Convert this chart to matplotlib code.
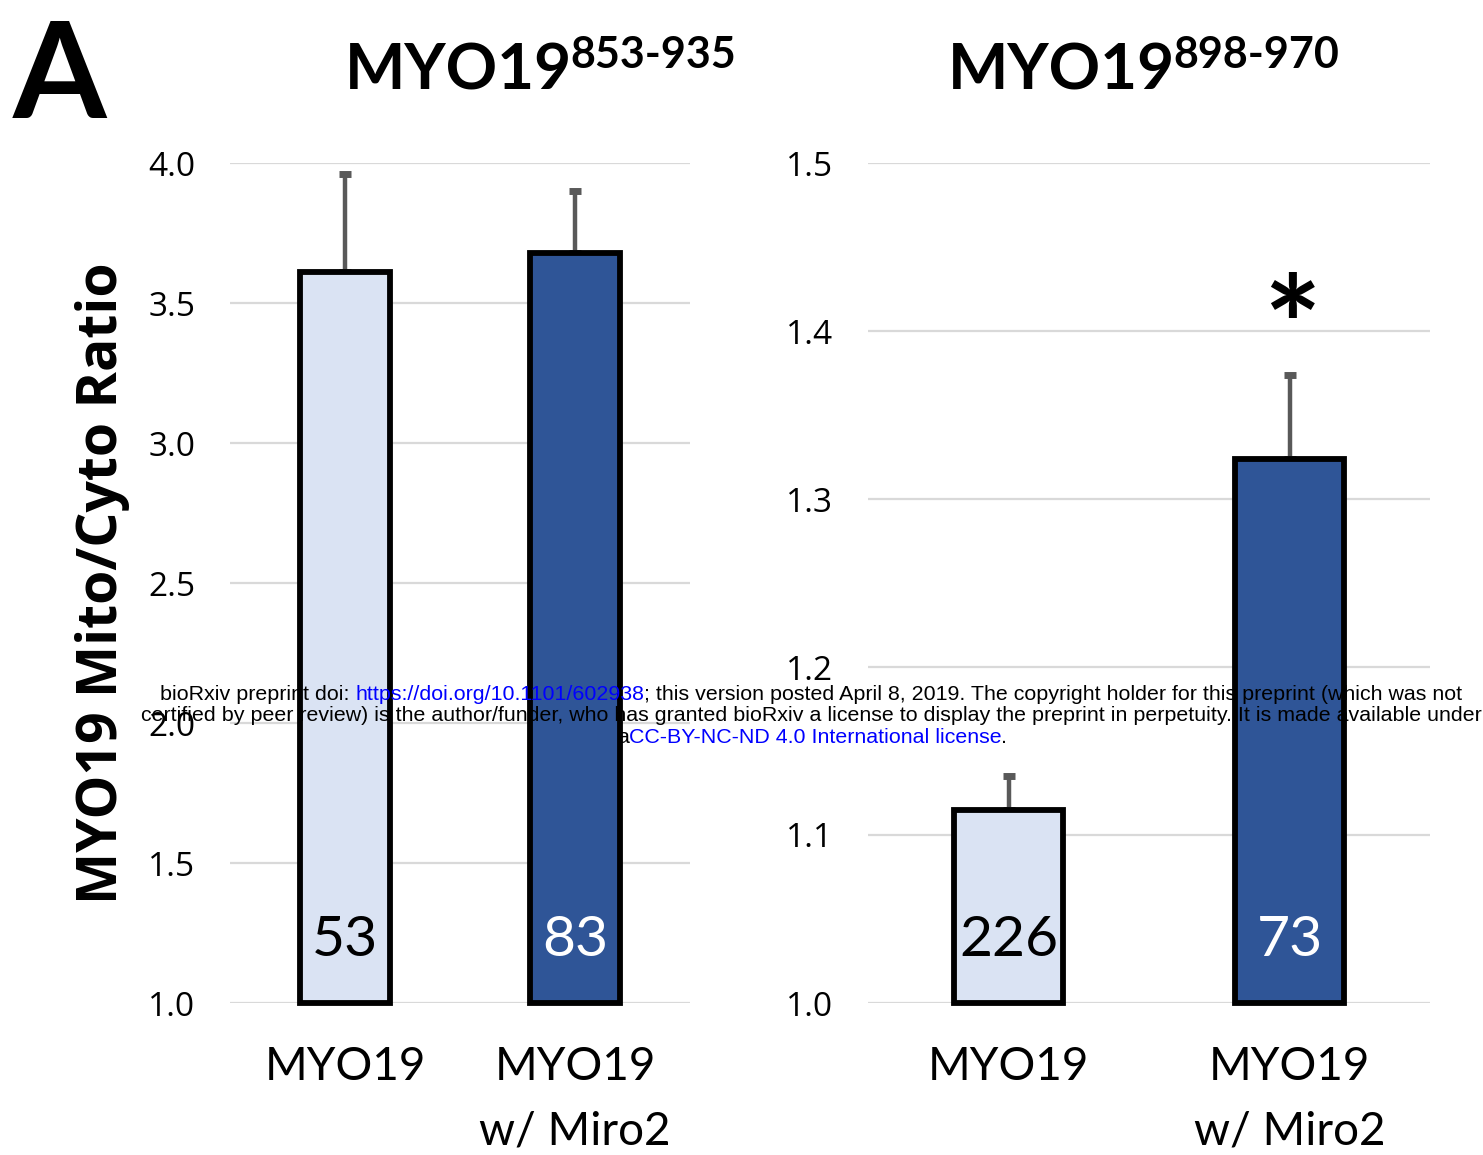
import numpy as np
import matplotlib.pyplot as plt

# data
groups = ['MYO19', 'MYO19\nw/ Miro2']
left_vals = [3.61, 3.68]
left_err = [0.35, 0.22]
left_n = ['53', '83']
left_ticks = [1.0, 1.5, 2.0, 2.5, 3.0, 3.5, 4.0]

right_vals = [1.115, 1.324]
right_err = [0.02, 0.05]
right_n = ['226', '73']
right_ticks = [1.0, 1.1, 1.2, 1.3, 1.4, 1.5]

bar_colors = ['#DAE3F3', '#2F5597']
n_colors = ['black', 'white']

W, H = 1483, 1155
fig = plt.figure(figsize=(W / 100, H / 100), dpi=100)


def panel(rect, vals, errs, ns, ticks):
    ax = fig.add_axes(rect)
    x = np.arange(len(vals))
    ax.bar(x, np.array(vals) - ticks[0], bottom=ticks[0], width=0.39,
           color=bar_colors, edgecolor='black', linewidth=4.2, zorder=3, clip_on=False)
    ax.errorbar(x, vals, yerr=[np.zeros(len(errs)), errs], fmt='none',
                ecolor='#595959', elinewidth=3.2, capsize=4, capthick=5, zorder=2)
    for i, n in enumerate(ns):
        ax.text(i, 0.056, n, transform=ax.get_xaxis_transform(), ha='center',
                va='baseline', fontsize=41, family='Lato', color=n_colors[i], zorder=4)
    ax.set_xlim(-0.5, 1.5)
    ax.set_ylim(ticks[0], ticks[-1])
    ax.set_yticks(ticks)
    ax.set_yticklabels(['%.1f' % t for t in ticks], fontsize=24, family='Open Sans')
    ax.set_xticks(x)
    ax.set_xticklabels(groups, fontsize=33, family='Lato', linespacing=1.65, va='top')
    ax.tick_params(length=0)
    ax.tick_params(axis='y', pad=25)
    ax.tick_params(axis='x', pad=31)
    ax.grid(axis='y', color='#D9D9D9', linewidth=1.6, zorder=0)
    for s in ax.spines.values():
        s.set_visible(False)
    return ax


bot = (H - 1003) / H
hgt = 840 / H
ax1 = panel([230 / W, bot, 460 / W, hgt], left_vals, left_err, left_n, left_ticks)
ax2 = panel([868 / W, bot, 562 / W, hgt], right_vals, right_err, right_n, right_ticks)

ax2.text(1.01, 1.397, '*', ha='center', va='center', fontsize=98, fontweight='bold', family='Lato')

fig.text(103 / W, 1 - 583 / H, 'MYO19 Mito/Cyto Ratio', rotation=90, ha='center', va='center',
         fontsize=39.8, fontweight='bold', family='Open Sans')
fig.text(13 / W, 1 - 118 / H, 'A', fontsize=97, fontweight='bold', family='Lato', va='baseline')

fig.canvas.draw()
r = fig.canvas.get_renderer()

# titles with superscripts
for x0, sup in [(345, '853-935'), (948, '898-970')]:
    t = fig.text(x0 / W, 1 - 90 / H, 'MYO19', fontsize=46, fontweight='bold', family='Lato', va='baseline')
    w = t.get_window_extent(r).width
    fig.text((x0 + w - 2) / W, 1 - 68 / H, sup, fontsize=31, fontweight='bold', family='Lato', va='baseline')

# bioRxiv watermark
wm = dict(family='Liberation Sans', fontsize=15.4, va='baseline', ha='left', zorder=10)


def width(s):
    t = fig.text(0, 0, s, **wm)
    w = t.get_window_extent(r).width
    t.remove()
    return w


space = width('a a') - width('aa')
blue = '#0000FF'
lines = [
    (700, 160, [('bioRxiv preprint doi:', 'black', False),
                ('https://doi.org/10.1101/602938', blue, True),
                ('; this version posted April 8, 2019. The copyright holder for this preprint (which was not', 'black', False)]),
    (721, 141, [('certified by peer review) is the author/funder, who has granted bioRxiv a license to display the preprint in perpetuity. It is made available under', 'black', False)]),
    (743, 617, [('a', 'black', False),
                ('CC-BY-NC-ND 4.0 International license', blue, False),
                ('.', 'black', False)]),
]
for y, x, segs in lines:
    for s, c, gap in segs:
        if gap:
            x += space
        t = fig.text(x / W, 1 - y / H, s, color=c, **wm)
        x += t.get_window_extent(r).width

fig.savefig('out.png', dpi=100)
